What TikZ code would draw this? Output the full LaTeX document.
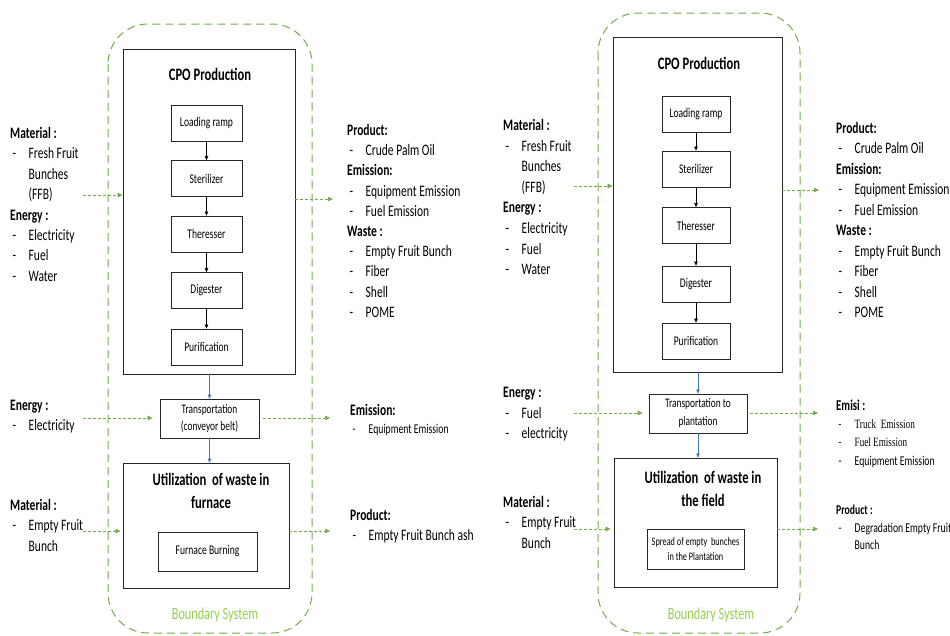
\documentclass[tikz,border=0pt]{standalone}
\usepackage{fontspec}
\setmainfont{Carlito}[FakeStretch=0.72]
\newfontfamily\timesq{Liberation Serif}[FakeStretch=0.72]
\usetikzlibrary{arrows.meta}
\definecolor{bndgreen}{RGB}{112,173,71}
\definecolor{lblgreen}{RGB}{146,208,80}
\definecolor{flowblue}{RGB}{68,114,196}
\newcommand{\fsz}[2]{\fontsize{#1}{#2}\selectfont}
\newcommand{\itm}[1]{\hspace*{2.5pt}\makebox[16pt][l]{-}#1}
\newcommand{\cnt}[1]{\hspace*{18.5pt}#1}

\begin{document}
\begin{tikzpicture}[x=1pt,y=-1pt,
  box/.style={draw=black!85,line width=0.8pt,inner sep=0pt},
  stage/.style={box,minimum height=36pt,font=\fsz{13.3}{15}},
  bnd/.style={draw=bndgreen,line width=1pt,dash pattern=on 8pt off 5pt,rounded corners=40pt},
  flow/.style={bndgreen,line width=0.7pt,dash pattern=on 3pt off 2pt,-{Triangle[length=5pt,width=4.5pt]}},
  seq/.style={line width=0.6pt,-{Triangle[length=4pt,width=3.5pt]}},
  link/.style={flowblue,line width=0.6pt,-{Triangle[length=4pt,width=3.5pt]}},
  lst/.style={anchor=north west,inner sep=0pt,align=left,font=\fsz{16}{20.4}},
  ttl/.style={font=\bfseries\fsz{17.5}{23},align=center},
  bndlbl/.style={font=\fsz{17}{20},text=lblgreen}]
\useasboundingbox (0,0) rectangle (950,635);

% left system: waste burnt in furnace
\draw[bnd] (108,24) rectangle (312,633);
\node[box,minimum width=172pt,minimum height=325pt] (cpoL) at (209,211.5) {};
\node[ttl] (cpoLt) at (210,74) {CPO Production};
\node[stage,minimum width=71pt] (lrL) at (206.5,123) {Loading ramp};
\node[stage,minimum width=71pt] (stL) at (206.5,178.5) {Sterilizer};
\node[stage,minimum width=71pt] (thL) at (206.5,234) {Theresser};
\node[stage,minimum width=71pt] (dgL) at (206.5,290.5) {Digester};
\node[stage,minimum width=71pt] (puL) at (206.5,347) {Purification};
\draw[seq] (lrL) -- (stL);
\draw[seq] (stL) -- (thL);
\draw[seq] (thL) -- (dgL);
\draw[seq] (dgL) -- (puL);

\node[box,minimum width=99pt,minimum height=39pt,align=center,font=\fsz{13}{17}] (trL) at (209.5,418.5) {Transportation\\(conveyor belt)};
\node[box,minimum width=166pt,minimum height=125pt] (utL) at (206,525.5) {};
\node[ttl] (utLt) at (211,490.5) {Utilization\ \ of waste in\\furnace};
\node[box,minimum width=99pt,minimum height=39pt,font=\fsz{13.3}{15}] (fbL) at (207.5,551.5) {Furnace Burning};
\node[bndlbl] (bsL) at (215,615) {Boundary System};

\draw[link] (trL.north |- cpoL.south) -- (trL.north);
\draw[link] (trL.south) -- (trL.south |- utL.north);

\coordinate (inL1) at (83,195);
\coordinate (outL1) at (333,199);
\coordinate (inL2) at (83,418);
\coordinate (outL2) at (330,418);
\coordinate (inL3) at (83,531);
\coordinate (outL3) at (330,531);
\draw[flow] (inL1) -- (inL1 -| cpoL.west);
\draw[flow] (outL1 -| cpoL.east) -- (outL1);
\draw[flow,shorten >=7pt] (inL2) -- (inL2 -| trL.west);
\draw[flow,shorten <=4pt] (outL2 -| trL.east) -- (outL2);
\draw[flow,shorten >=2pt] (inL3) -- (inL3 -| utL.west);
\draw[flow] (outL3 -| utL.east) -- (outL3);

\node[lst] (matL) at (10,127) {\textbf{Material :}\\\itm{Fresh Fruit}\\\cnt{Bunches}\\\cnt{(FFB)}\\\textbf{Energy :}\\\itm{Electricity}\\\itm{Fuel}\\\itm{Water}};
\node[lst,font=\fsz{16}{20.2}] (prodL) at (347,124) {\textbf{Product:}\\\itm{Crude Palm Oil}\\\textbf{Emission:}\\\itm{Equipment Emission}\\\itm{Fuel Emission}\\\textbf{Waste :}\\\itm{Empty Fruit Bunch}\\\itm{Fiber}\\\itm{Shell}\\\itm{POME}};
\node[lst] (enL) at (10,400) {\textbf{Energy :}\\\itm{Electricity}};
\node[lst] (emL) at (350,404) {\textbf{Emission:}\\[-2pt]{\fsz{13.5}{15}\itm{Equipment Emission}}};
\node[lst] (mat2L) at (10,499) {\textbf{Material :}\\\itm{Empty Fruit}\\\cnt{Bunch}};
\node[lst] (prod2L) at (350,509) {\textbf{Product:}\\\itm{Empty Fruit Bunch ash}};

% right system: waste spread in the field
\draw[bnd] (598,13) rectangle (800,633);
\node[box,minimum width=169pt,minimum height=335pt] (cpoR) at (697.5,204.5) {};
\node[ttl] (cpoRt) at (699,63) {CPO Production};
\node[stage,minimum width=68pt] (lrR) at (696,114) {Loading ramp};
\node[stage,minimum width=68pt] (stR) at (696,169) {Sterilizer};
\node[stage,minimum width=68pt] (thR) at (696,225.5) {Theresser};
\node[stage,minimum width=68pt] (dgR) at (696,284) {Digester};
\node[stage,minimum width=68pt] (puR) at (696,341) {Purification};
\draw[seq] (lrR) -- (stR);
\draw[seq] (stR) -- (thR);
\draw[seq] (thR) -- (dgR);
\draw[seq] (dgR) -- (puR);

\node[box,minimum width=98pt,minimum height=39pt,align=center,font=\fsz{13}{18}] (trR) at (698,413.5) {Transportation to\\plantation};
\node[box,minimum width=163pt,minimum height=129pt] (utR) at (695.5,522.5) {};
\node[ttl] (utRt) at (703,488.5) {Utilization\ \ of waste in\\the field};
\node[box,minimum width=97pt,minimum height=40pt,align=center,font=\fsz{11.5}{15}] (spR) at (695.5,549) {Spread of empty\ \ bunches\\in the Plantation};
\node[bndlbl] (bsR) at (711,615) {Boundary System};

\draw[link] (trR.north |- cpoR.south) -- (trR.north);
\draw[link] (trR.south) -- (trR.south |- utR.north);

\coordinate (inR1) at (574,186);
\coordinate (outR1) at (819,190);
\coordinate (inR2) at (574,413);
\coordinate (outR2) at (818,413);
\coordinate (inR3) at (574,529);
\coordinate (outR3) at (818,529);
\draw[flow] (inR1) -- (inR1 -| cpoR.west);
\draw[flow] (outR1 -| cpoR.east) -- (outR1);
\draw[flow,shorten >=6pt] (inR2) -- (inR2 -| trR.west);
\draw[flow,shorten <=3pt] (outR2 -| trR.east) -- (outR2);
\draw[flow,shorten >=3pt] (inR3) -- (inR3 -| utR.west);
\draw[flow] (outR3 -| utR.east) -- (outR3);

\node[lst,font=\fsz{16}{20.6}] (matR) at (503,119) {\textbf{Material :}\\\itm{Fresh Fruit}\\\cnt{Bunches}\\\cnt{(FFB)}\\\textbf{Energy :}\\\itm{Electricity}\\\itm{Fuel}\\\itm{Water}};
\node[lst,font=\fsz{16}{20.5}] (prodR) at (836,122) {\textbf{Product:}\\\itm{Crude Palm Oil}\\\textbf{Emission:}\\\itm{Equipment Emission}\\\itm{Fuel Emission}\\\textbf{Waste :}\\\itm{Empty Fruit Bunch}\\\itm{Fiber}\\\itm{Shell}\\\itm{POME}};
\node[lst,font=\fsz{16}{20.5}] (enR) at (503,387) {\textbf{Energy :}\\\itm{Fuel}\\\itm{electricity}};
\node[lst,font=\fsz{15}{18}] (emiR) at (836,400) {\textbf{Emisi :}\\{\fsz{12.7}{18}\itm{\timesq Truck\ \ Emission}}\\{\fsz{12.7}{18}\itm{\timesq Fuel Emission}}\\[0.5pt]{\fsz{13.5}{18}\itm{Equipment Emission}}};
\node[lst] (mat2R) at (503,496) {\textbf{Material :}\\\itm{Empty Fruit}\\\cnt{Bunch}};
\node[lst,font=\fsz{13.5}{17.5}] (prod2R) at (836,505) {\textbf{Product :}\\\itm{Degradation Empty Fruit}\\\cnt{Bunch}};
\end{tikzpicture}
\end{document}
